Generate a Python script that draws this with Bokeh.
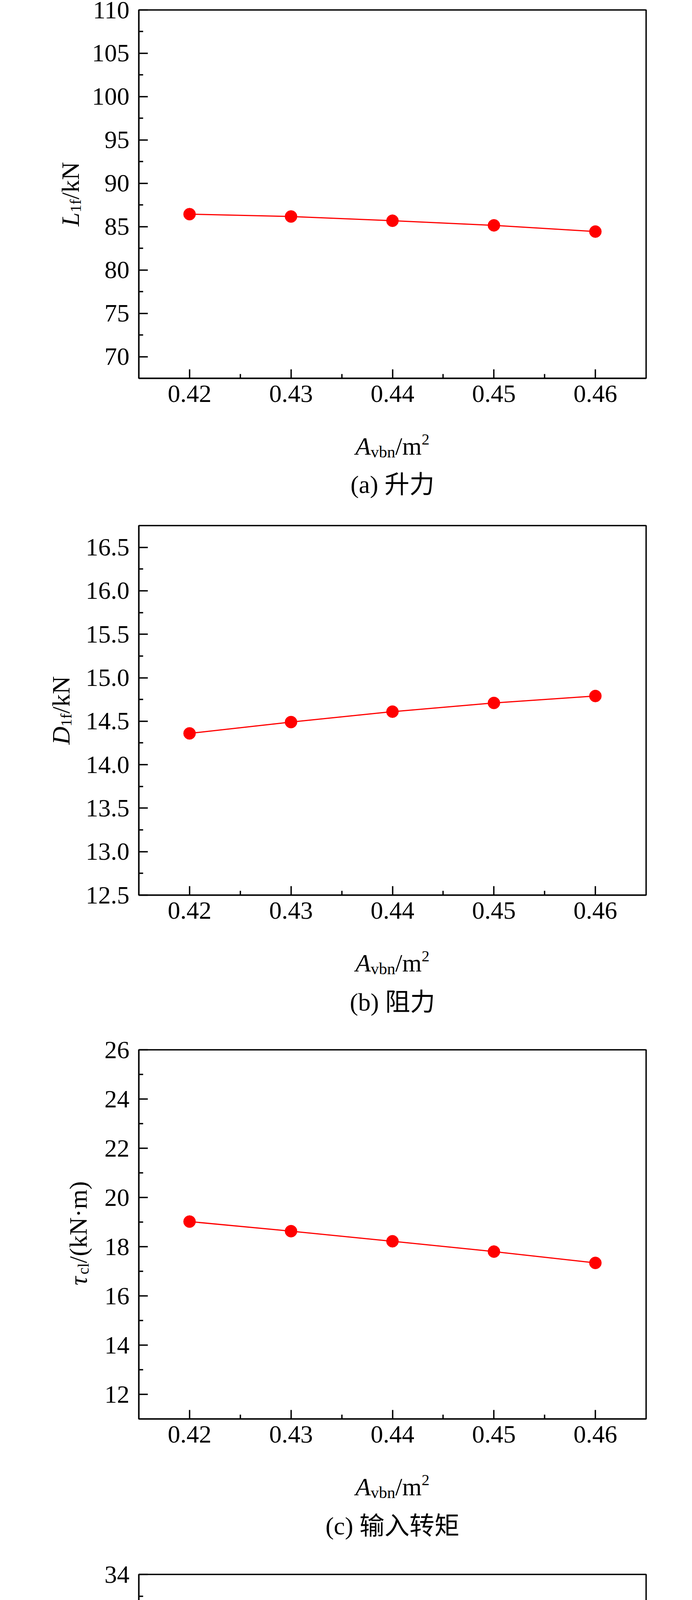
from math import pi
from bokeh.plotting import figure
from bokeh.layouts import column
from bokeh.models import Range1d, FixedTicker, PrintfTickFormatter
from bokeh.core.properties import value
from bokeh.embed import file_html
from bokeh.resources import INLINE

# data
area = [0.42, 0.43, 0.44, 0.45, 0.46]
x_ticks = [0.42, 0.43, 0.44, 0.45, 0.46]

lift = [86.44, 86.17, 85.68, 85.15, 84.43]
drag = [14.36, 14.49, 14.61, 14.71, 14.79]
torque = [19.02, 18.63, 18.22, 17.80, 17.34]
surge_margin = [18.94, 22.22, 25.50, 28.82, 32.15]

lift_ticks = [70, 75, 80, 85, 90, 95, 100, 105, 110]
drag_ticks = [12.5, 13.0, 13.5, 14.0, 14.5, 15.0, 15.5, 16.0, 16.5]
torque_ticks = [12, 14, 16, 18, 20, 22, 24, 26]
margin_ticks = [18, 20, 22, 24, 26, 28, 30, 32, 34]

captions = ["(a) 升力", "(b) 阻力", "(c) 输入转矩", "(d) 喘振裕度"]

SERIF = "Liberation Serif"
MAIN = 64
SUB = 40
FRAME_W = 1299

# rough Times widths (em) used to lay out the composite axis titles
W = {'/': 0.278, 'k': 0.5, 'N': 0.722, 'm': 0.778, '(': 0.333, ')': 0.333,
     '·': 0.25, '%': 0.833, '1': 0.5, 'f': 0.333, 'c': 0.444, 'l': 0.278,
     'v': 0.5, 'b': 0.5, 'n': 0.5, '2': 0.5}
WI = {'L': 0.556, 'D': 0.722, 'M': 0.833, 'A': 0.611, 'τ': 0.44}


def text_width(s, size, italic):
    table = WI if italic else W
    return sum(table.get(ch, 0.5) for ch in s) * size


def put_text(p, x, y, text, size, italic=False, angle=0.0, align="left",
             baseline="alphabetic", font=SERIF):
    # drawn as an overlay glyph so that it is not clipped to the frame
    p.text(x=[x], y=[y], text=[text], angle=angle,
           text_font=value(font), text_font_size=value(f"{size}px"),
           text_font_style="italic" if italic else "normal",
           text_align=align, text_baseline=baseline, text_color="black",
           level="overlay")


def add_title(p, pieces, ax, ay, base, sx, sy, vertical=False):
    # ax, ay: anchor in data units; base, offsets in px; sx, sy: px per data unit
    total = sum(text_width(t, s, it) for t, s, it, _ in pieces)
    pos = -total / 2
    for t, s, it, shift in pieces:
        if vertical:
            x = ax + (base - shift) / sx
            y = ay + pos / sy
            put_text(p, x, y, t, s, it, angle=pi / 2)
        else:
            x = ax + pos / sx
            y = ay + (base + shift) / sy
            put_text(p, x, y, t, s, it)
        pos += text_width(t, s, it)


panels = [
    dict(values=lift, ticks=lift_ticks, yr=(67.5, 110), fmt="%d",
         ylabel=[("L", MAIN, True, 0), ("1f", SUB, False, -13), ("/kN", MAIN, False, 0)],
         ybase=-175, frame_h=943, border_t=25, border_b=312, cap_off=272),
    dict(values=drag, ticks=drag_ticks, yr=(12.5, 16.75), fmt="%.1f",
         ylabel=[("D", MAIN, True, 0), ("1f", SUB, False, -13), ("/kN", MAIN, False, 0)],
         ybase=-199, frame_h=946, border_t=65, border_b=331, cap_off=274),
    dict(values=torque, ticks=torque_ticks, yr=(11, 26), fmt="%d",
         ylabel=[("τ", MAIN, True, 0), ("cl", SUB, False, -13), ("/(kN·m)", MAIN, False, 0)],
         ybase=-155, frame_h=945, border_t=65, border_b=333, cap_off=274),
    dict(values=surge_margin, ticks=margin_ticks, yr=(17, 34), fmt="%d",
         ylabel=[("M", MAIN, True, 0), ("1f", SUB, False, -13), ("/%", MAIN, False, 0)],
         ybase=-153, frame_h=947, border_t=65, border_b=302, cap_off=262),
]

x0, x1 = 0.415, 0.465
figs = []
for cfg, cap in zip(panels, captions):
    y0, y1 = cfg["yr"]
    p = figure(frame_width=FRAME_W, frame_height=cfg["frame_h"],
               x_range=Range1d(x0, x1), y_range=Range1d(y0, y1),
               min_border_left=355, min_border_right=102,
               min_border_top=cfg["border_t"], min_border_bottom=cfg["border_b"],
               toolbar_location=None, tools="", output_backend="svg")
    p.grid.visible = False
    p.outline_line_color = "black"
    p.outline_line_width = 3.5
    p.outline_line_alpha = 1.0
    p.background_fill_color = "white"
    p.border_fill_color = "white"

    yt = cfg["ticks"]
    step = yt[1] - yt[0]
    p.xaxis.ticker = FixedTicker(ticks=x_ticks,
                                 minor_ticks=[t + 0.005 for t in x_ticks[:-1]])
    p.yaxis.ticker = FixedTicker(ticks=yt,
                                 minor_ticks=[t + step / 2 for t in yt[:-1]])
    p.xaxis.formatter = PrintfTickFormatter(format="%.2f")
    p.yaxis.formatter = PrintfTickFormatter(format=cfg["fmt"])

    for ax in (p.xaxis[0], p.yaxis[0]):
        ax.axis_line_width = 3.5
        ax.major_tick_in = 23
        ax.major_tick_out = 0
        ax.minor_tick_in = 11
        ax.minor_tick_out = 0
        ax.major_tick_line_width = 3.5
        ax.minor_tick_line_width = 3.5
        ax.major_label_text_font = SERIF
        ax.major_label_text_font_size = "64px"
        ax.major_label_text_color = "black"
    p.xaxis.major_label_standoff = 18
    p.yaxis.major_label_standoff = 24

    p.line(area, cfg["values"], line_color="red", line_width=3)
    p.scatter(area, cfg["values"], size=31, fill_color="red", line_color="red")

    sx = FRAME_W / (x1 - x0)
    sy = cfg["frame_h"] / (y1 - y0)
    xm = (x0 + x1) / 2
    ym = (y0 + y1) / 2
    add_title(p, [("A", MAIN, True, 0), ("vbn", SUB + 2, False, -14),
                  ("/m", MAIN, False, 0), ("2", SUB, False, 18)],
              xm, y0, -174, sx, sy)
    add_title(p, cfg["ylabel"], x0, ym, cfg["ybase"], sx, sy, vertical=True)

    put_text(p, xm, y0 - cfg["cap_off"] / sy, cap, MAIN, align="center",
             baseline="middle", font=SERIF + ", Noto Sans CJK SC")
    figs.append(p)

layout = column(*figs, spacing=0)
open("out.html", "w").write(file_html(layout, INLINE, "升力 阻力 输入转矩 喘振裕度"))
